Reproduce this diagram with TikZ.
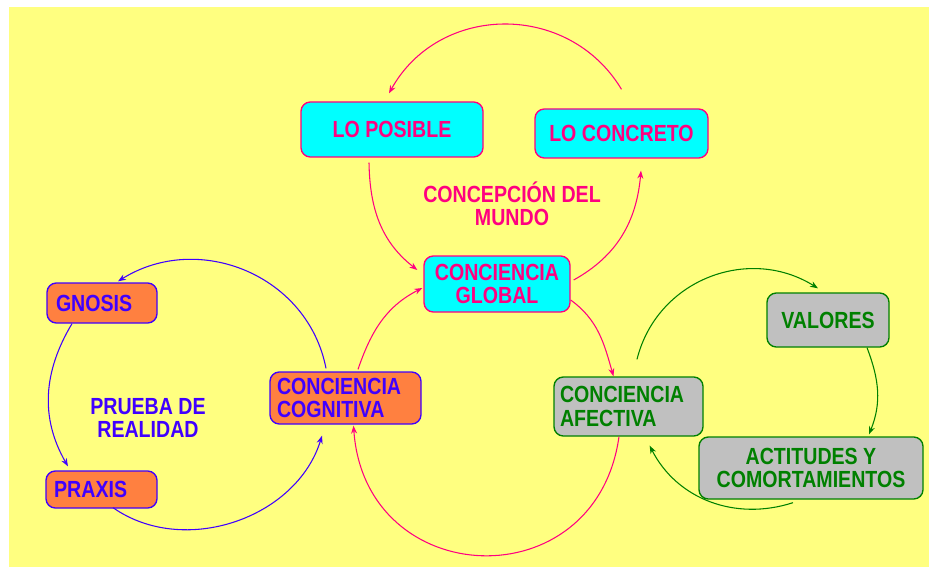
\documentclass[tikz,border=0pt]{standalone}
\usepackage{fontspec}
\setmainfont{Liberation Sans}[FakeStretch=0.84]
\usetikzlibrary{arrows.meta}
\definecolor{bgyellow}{RGB}{255,255,128}
\definecolor{cyanbox}{RGB}{0,255,255}
\definecolor{pinkc}{RGB}{255,0,128}
\definecolor{orangebox}{RGB}{255,128,64}
\definecolor{bluec}{RGB}{64,0,255}
\definecolor{graybox}{RGB}{192,192,192}
\definecolor{greenc}{RGB}{0,128,0}
\begin{document}
\begin{tikzpicture}[x=0.75pt,y=-0.75pt,
  txt/.style={font=\bfseries\fontsize{17.5}{17.5}\selectfont},
  box/.style={txt, rounded corners=7pt, line width=1pt, inner sep=0pt},
  cyanb/.style={box, fill=cyanbox, draw=pinkc, text=pinkc, align=center},
  orangeb/.style={box, fill=orangebox, draw=bluec, text=bluec},
  grayb/.style={box, fill=graybox, draw=greenc, text=greenc},
  conn/.style={line width=0.8pt, -{Stealth[length=6pt,width=4.5pt]}},
  pinkarrow/.style={conn, draw=pinkc},
  bluearrow/.style={conn, draw=bluec},
  greenarrow/.style={conn, draw=greenc}]
\useasboundingbox (0,0) rectangle (929,567);
\fill[white] (0,0) rectangle (929,567);
\fill[bgyellow] (9,7) rectangle (929,567);

% nodes
\node[cyanb, minimum width=136.5pt, minimum height=41.25pt] (lp) at (392,129.5) {LO POSIBLE};
\node[cyanb, minimum width=129.75pt, minimum height=36.75pt] (lc) at (621.5,133.5) {LO CONCRETO};
\node[cyanb, minimum width=109.5pt, minimum height=42pt] (gl) at (497,284) {CONCIENCIA\\GLOBAL};
\node[txt, text=pinkc, align=center] (cm) at (512,204) {CONCEPCIÓN DEL\\MUNDO};

\node[orangeb, minimum width=82.5pt, minimum height=30pt, text width=69pt, align=left] (gn) at (102,303) {GNOSIS};
\node[orangeb, minimum width=83.25pt, minimum height=27.75pt, text width=71pt, align=left] (px) at (101.5,489.5) {PRAXIS};
\node[orangeb, minimum width=113.25pt, minimum height=39pt, text width=102.75pt, align=left] (cg) at (345.5,398) {CONCIENCIA\\COGNITIVA};
\node[txt, text=bluec, align=center] (pr) at (148,418) {PRUEBA DE\\REALIDAD};

\node[grayb, minimum width=111.75pt, minimum height=44.25pt, text width=102.75pt, align=left] (af) at (628.5,406.5) {CONCIENCIA\\AFECTIVA};
\node[grayb, minimum width=91.5pt, minimum height=40.5pt, align=center] (va) at (828,320) {VALORES};
\node[grayb, minimum width=168pt, minimum height=46.5pt, align=center] (ac) at (811,468) {ACTITUDES Y\\COMORTAMIENTOS};

% pink connectors
\draw[pinkarrow] ([shift={(0,-19)}]lc.north) to[out=121,in=61,looseness=1.13] ([shift={(-3,-8)}]lp.north);
\draw[pinkarrow] ([shift={(-23,5)}]lp.south) to[out=271,in=142] ([shift={(-6,-14)}]gl.west);
\draw[pinkarrow] ([shift={(3,-4)}]gl.east) to[out=29,in=265] ([shift={(19.5,12)}]lc.south);
\draw[pinkarrow] ([shift={(0,16)}]gl.east) to[out=-36,in=106] ([shift={(-15,0)}]af.north);
\draw[pinkarrow] ([shift={(-9.5,0)}]af.south) to[out=-98,in=-86,looseness=1.6] ([shift={(8,1)}]cg.south);
\draw[pinkarrow] ([shift={(12.5,-2)}]cg.north) to[out=71,in=207] ([shift={(-1,4)}]gl.west);

% blue connectors
\draw[bluearrow] ([shift={(-19.5,-3)}]cg.north) to[out=101,in=32,looseness=1.08] ([shift={(16,-1)}]gn.north);
\draw[bluearrow] ([shift={(-30,0)}]gn.south) to[out=239,in=120] ([shift={(-33.5,-4)}]px.north);
\draw[bluearrow] ([shift={(11.5,-1)}]px.south) to[out=325,in=253] ([shift={(-23.5,11)}]cg.south);

% green connectors
\draw[greenarrow] ([shift={(8.5,-17)}]af.north) to[out=76,in=148,looseness=1.08] ([shift={(-10,-4)}]va.north);
\draw[greenarrow] ([shift={(39,0)}]va.south) to[out=-69,in=68] ([shift={(58,-2)}]ac.north);
\draw[greenarrow] ([shift={(-18,3)}]ac.south) to[out=198,in=-63] ([shift={(-54,9)}]af.south east);
\end{tikzpicture}
\end{document}
